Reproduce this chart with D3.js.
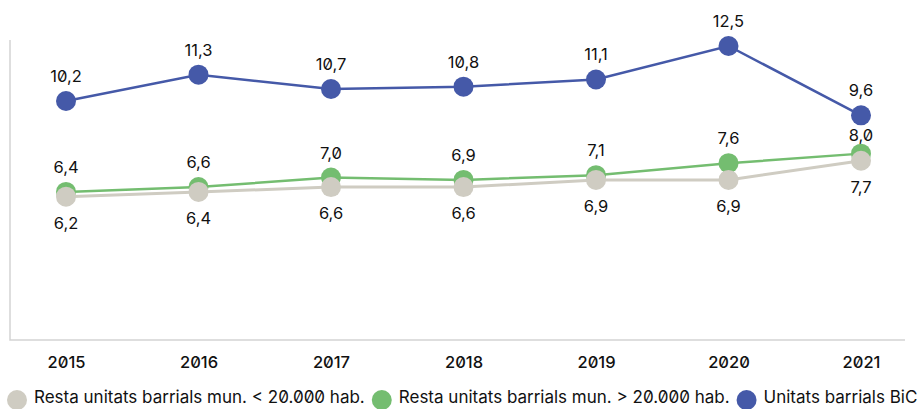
<!DOCTYPE html>
<html>
<head>
<meta charset="utf-8">
<script src="https://cdn.jsdelivr.net/npm/d3@7"></script>
<style>
  body { margin: 0; background: #fff; }
  svg { font-family: Inter, "Noto Sans", sans-serif; font-feature-settings: "zero" 1; }
</style>
</head>
<body>
<svg id="chart" width="919" height="409"></svg>
<script>
'use strict';

var years = ['2015', '2016', '2017', '2018', '2019', '2020', '2021'];
var restaPetits = [6.2, 6.4, 6.6, 6.6, 6.9, 6.9, 7.7];   // < 20.000 hab.
var restaGrans = [6.4, 6.6, 7.0, 6.9, 7.1, 7.6, 8.0];    // > 20.000 hab.
var unitatsBiC = [10.2, 11.3, 10.7, 10.8, 11.1, 12.5, 9.6];

var seriesNames = [
  'Resta unitats barrials mun. < 20.000 hab.',
  'Resta unitats barrials mun. > 20.000 hab.',
  'Unitats barrials BiC'
];
var seriesColors = ['#cfccc2', '#74bd70', '#4559a8'];

var series = [
  { name: seriesNames[1], values: restaGrans, color: seriesColors[1], width: 2.5, labelDy: -19 },
  { name: seriesNames[0], values: restaPetits, color: seriesColors[0], width: 3, labelDy: 32 },
  { name: seriesNames[2], values: unitatsBiC, color: seriesColors[2], width: 2.5, labelDy: -19 }
];

(function() {
  var svg = d3.select('#chart');
  var left = 10, right = 905, base = 340, plotTop = 40;

  var x = d3.scalePoint().domain(years).range([66, 861]);
  var y = d3.scaleLinear().domain([0, 12.75]).range([345, plotTop]);
  var fmt = function(v) { return d3.format('.1f')(v).replace('.', ','); };

  // frame: left axis and baseline
  svg.append('path')
    .attr('d', 'M' + left + ',' + plotTop + 'V' + base + 'H' + right)
    .attr('fill', 'none').attr('stroke', '#d3d3d3').attr('stroke-width', 1.5);

  // x axis labels
  var xAxis = svg.append('g').attr('transform', 'translate(0,' + base + ')')
    .call(d3.axisBottom(x).tickSize(0).tickPadding(16));
  xAxis.select('.domain').remove();
  xAxis.selectAll('text')
    .attr('font-family', 'Inter, sans-serif').attr('font-size', 16.5).attr('font-weight', 500).attr('fill', '#111');

  var line = d3.line().x(function(d, i) { return x(years[i]); }).y(function(d) { return y(d); });

  series.forEach(function(s) {
    var g = svg.append('g');
    g.append('path').datum(s.values)
      .attr('d', line).attr('fill', 'none').attr('stroke', s.color).attr('stroke-width', s.width);
    g.selectAll('circle').data(s.values).enter().append('circle')
      .attr('cx', function(d, i) { return x(years[i]); })
      .attr('cy', function(d) { return y(d); })
      .attr('r', 10).attr('fill', s.color);
  });

  // value labels on top
  series.forEach(function(s) {
    svg.append('g').selectAll('text').data(s.values).enter().append('text')
      .attr('x', function(d, i) { return x(years[i]); })
      .attr('y', function(d, i) {
        var dy = s.labelDy;
        if (s.values === restaGrans && i === 6) dy = -13; // squeezed under the BiC point
        return y(d) + dy;
      })
      .attr('text-anchor', 'middle').attr('font-size', 16.5).attr('fill', '#111')
      .text(fmt);
  });

  // legend (sits right on the bottom edge, like the original)
  var legend = svg.append('g').attr('transform', 'translate(0,399)');
  var lx = 17;
  seriesNames.forEach(function(name, i) {
    legend.append('circle').attr('cx', lx).attr('cy', 1).attr('r', 10).attr('fill', seriesColors[i]);
    var t = legend.append('text').attr('x', lx + 17).attr('y', 4)
      .attr('font-size', 17).attr('fill', '#111').text(name);
    lx += 17 + t.node().getComputedTextLength() + 17;
  });
})();
</script>
</body>
</html>
